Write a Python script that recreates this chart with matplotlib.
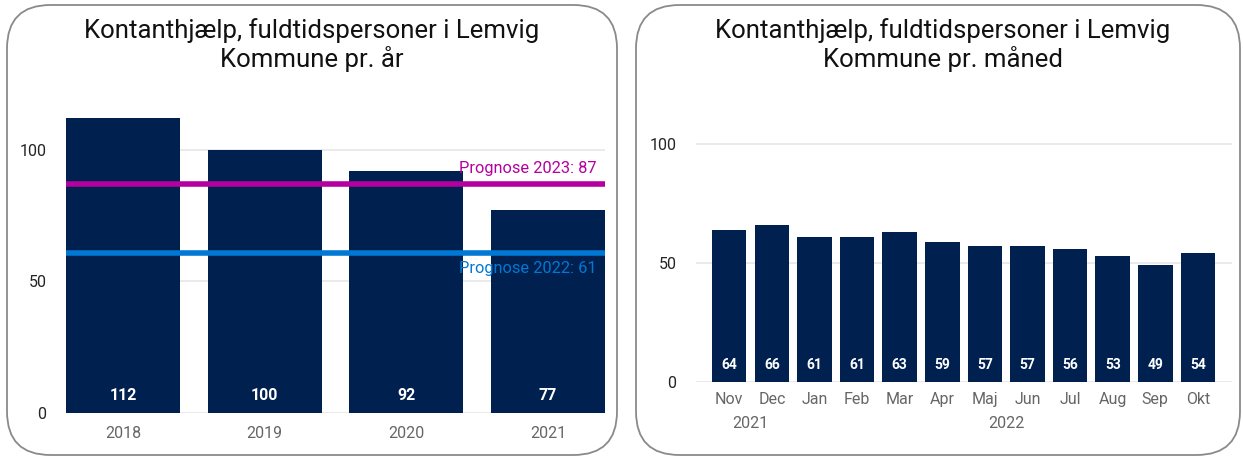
import matplotlib
matplotlib.use("Agg")
import matplotlib.pyplot as plt
from matplotlib.patches import FancyBboxPatch

YEARS = ["2018", "2019", "2020", "2021"]
YEAR_VALUES = [112, 100, 92, 77]
PROGNOSE_2023 = 87
PROGNOSE_2022 = 61

MONTHS = ["Nov", "Dec", "Jan", "Feb", "Mar", "Apr", "Maj", "Jun", "Jul", "Aug", "Sep", "Okt"]
MONTH_VALUES = [64, 66, 61, 61, 63, 59, 57, 57, 56, 53, 49, 54]
MONTH_YEARS = ["2021", "2021", "2022", "2022", "2022", "2022", "2022", "2022", "2022", "2022", "2022", "2022"]

NAVY = "#002050"
MAGENTA = "#B4009E"
BLUE = "#0078D4"
GRID = "#E6E6E6"
TICK_GRAY = "#666666"

W, H = 1243, 459
plt.rcParams["font.family"] = ["Roboto", "DejaVu Sans"]


def px_axes(fig, x0, x1, y_top, y_bottom):
    return fig.add_axes([x0 / W, 1 - y_bottom / H, (x1 - x0) / W, (y_bottom - y_top) / H])


def style_axes(ax, ymax):
    ax.set_ylim(0, ymax)
    ax.set_yticks([0, 50, 100])
    ax.yaxis.grid(True, color=GRID, linewidth=1.2)
    ax.set_axisbelow(True)
    ax.patch.set_alpha(0)
    for spine in ax.spines.values():
        spine.set_visible(False)
    ax.tick_params(axis="both", length=0)
    ax.tick_params(axis="y", labelsize=11.5, labelcolor="#252423", pad=14)
    ax.tick_params(axis="x", labelsize=11.5, labelcolor=TICK_GRAY)


fig = plt.figure(figsize=(W / 100, H / 100), dpi=100)

# panel frames
for x0, x1 in [(7, 617), (636, 1240)]:
    fig.patches.append(
        FancyBboxPatch(
            (x0 / W, 4 / H), (x1 - x0) / W, (H - 9) / H,
            boxstyle="round,pad=0,rounding_size=0.035",
            transform=fig.transFigure, fc="none", ec="#8a8a8a", lw=1.3,
            mutation_aspect=W / H, zorder=-1,
        )
    )

# left: per year
ax1 = px_axes(fig, 66, 605, 110.5, 413)
x1 = range(len(YEARS))
ax1.bar(x1, YEAR_VALUES, width=0.806, color=NAVY, zorder=2)
ax1.set_xlim(-0.403, len(YEARS) - 1 + 0.403)
style_axes(ax1, 115)
ax1.set_xticks(list(x1))
ax1.set_xticklabels(YEARS)
ax1.tick_params(axis="x", pad=9)
for xi, v in zip(x1, YEAR_VALUES):
    ax1.annotate(str(v), (xi, 0), xytext=(0, 7.5), textcoords="offset points",
                 ha="center", va="bottom", color="white", fontsize=11.5, fontweight="bold")
ax1.axhline(PROGNOSE_2023, color=MAGENTA, linewidth=4, zorder=3)
ax1.axhline(PROGNOSE_2022, color=BLUE, linewidth=4, zorder=3)
ax1.annotate(f"Prognose 2023: {PROGNOSE_2023}", (0.985, PROGNOSE_2023),
             xycoords=("axes fraction", "data"), xytext=(0, 6), textcoords="offset points",
             ha="right", va="bottom", color=MAGENTA, fontsize=11.8, zorder=4)
ax1.annotate(f"Prognose 2022: {PROGNOSE_2022}", (0.985, PROGNOSE_2022),
             xycoords=("axes fraction", "data"), xytext=(0, -6), textcoords="offset points",
             ha="right", va="top", color=BLUE, fontsize=11.8, zorder=4)
fig.text(312 / W, 1 - 45 / H, "Kontanthjælp, fuldtidspersoner i Lemvig\nKommune pr. år",
         ha="center", va="center", fontsize=18.5, linespacing=1.1, color="#111111")

# right: per month
ax2 = px_axes(fig, 696, 1232, 108.3, 382)
x2 = list(range(len(MONTHS)))
ax2.bar(x2, MONTH_VALUES, width=0.81, color=NAVY, zorder=2)
ax2.set_xlim(-0.78, len(MONTHS) - 1 + 0.8)
style_axes(ax2, 115)
ax2.set_xticks(x2)
ax2.set_xticklabels(MONTHS)
ax2.tick_params(axis="x", pad=7)
for xi, v in zip(x2, MONTH_VALUES):
    ax2.annotate(str(v), (xi, 0), xytext=(0, 7.5), textcoords="offset points",
                 ha="center", va="bottom", color="white", fontsize=10, fontweight="bold")
for year in dict.fromkeys(MONTH_YEARS):
    idx = [i for i, y in enumerate(MONTH_YEARS) if y == year]
    center = (idx[0] + idx[-1]) / 2
    ax2.annotate(year, (center, 0), xycoords=("data", "axes fraction"),
                 xytext=(0, -24.5), textcoords="offset points",
                 ha="center", va="top", color=TICK_GRAY, fontsize=11.5)
fig.text(943 / W, 1 - 45 / H, "Kontanthjælp, fuldtidspersoner i Lemvig\nKommune pr. måned",
         ha="center", va="center", fontsize=18.5, linespacing=1.1, color="#111111")

fig.savefig("out.png", dpi=100)
